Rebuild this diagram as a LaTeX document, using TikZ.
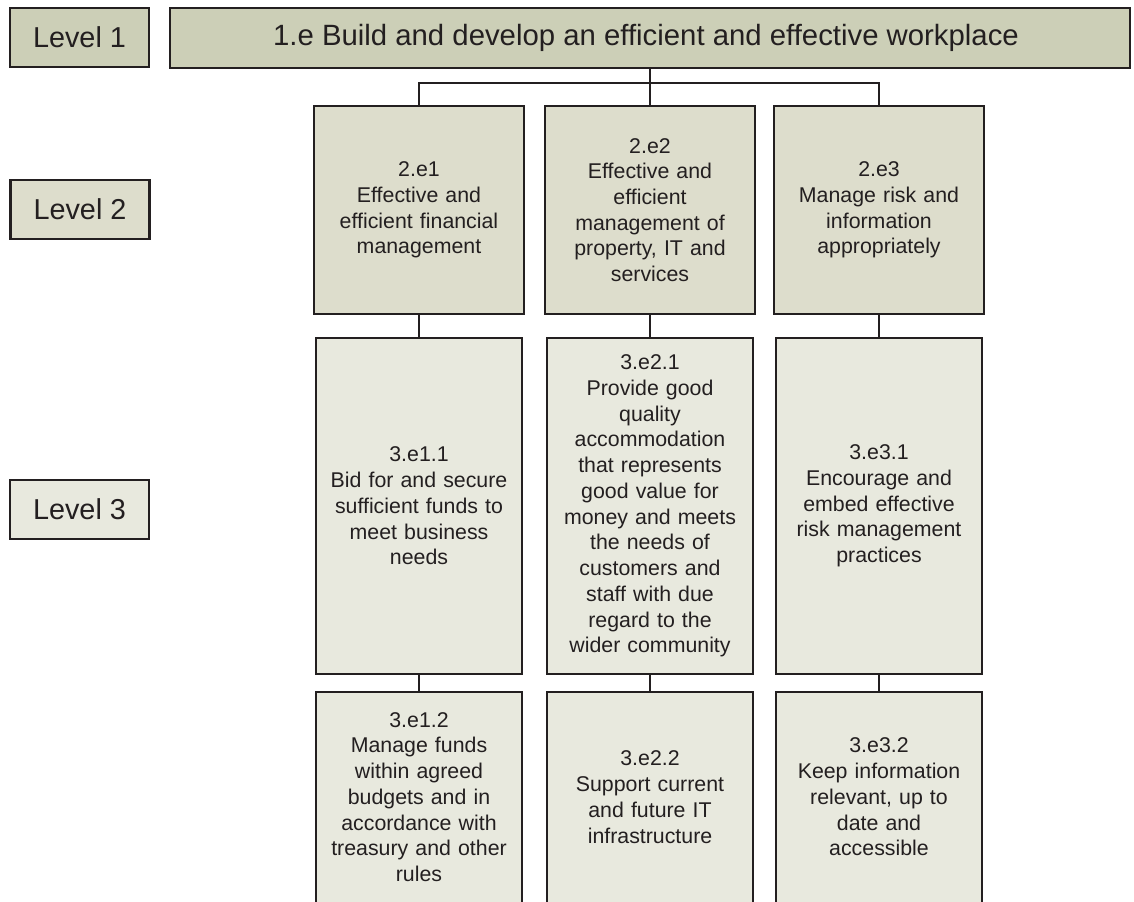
\documentclass[tikz,border=0pt]{standalone}
\usepackage{fontspec}
\setmainfont{Liberation Sans}
\definecolor{ink}{HTML}{231F20}
\definecolor{fillone}{HTML}{CCCFB7}
\definecolor{filltwo}{HTML}{DDDDCC}
\definecolor{fillthree}{HTML}{E8E9DE}
\tikzset{
  boxbase/.style={draw=ink, line width=2pt, text=ink, inner sep=0pt, rectangle},
  bigfont/.style={font=\fontsize{21.6}{26}\selectfont},
  smallfont/.style={font=\fontsize{16}{19.3}\selectfont, align=center, text width=150pt},
  levelbox/.style={boxbase, bigfont, minimum width=104.25pt, minimum height=44.25pt},
  topbox/.style={boxbase, font=\fontsize{22}{26}\selectfont, fill=fillone, minimum width=720pt, minimum height=45pt},
  lvtwo/.style={boxbase, smallfont, fill=filltwo, minimum width=157.5pt, minimum height=156pt},
  lvthree/.style={boxbase, smallfont, fill=fillthree, minimum width=154.5pt, minimum height=252pt},
  % lower row: the box runs past the page edge, so the text block is
  % lifted by giving it extra depth (lines-1 baselines plus 12pt)
  lvthreelow/.style={boxbase, smallfont, fill=fillthree, minimum width=154.5pt, minimum height=169.5pt, text depth={(#1-1)*19.3pt+12pt}},
  conn/.style={draw=ink, line width=2pt},
}
\begin{document}
\begin{tikzpicture}[x=0.75pt, y=-0.75pt]
\useasboundingbox (0,0) rectangle (1134,902);
\clip (0,0) rectangle (1134,902);

% level captions on the left
\node[levelbox, fill=fillone]   (lv1) at (79.5,37.5)  {Level 1};
\node[levelbox, fill=filltwo]   (lv2) at (80,209.5)   {Level 2};
\node[levelbox, fill=fillthree] (lv3) at (79.5,509.5) {Level 3};

% level 1
\node[topbox] (top) at (650,38) {\hspace*{-6pt}1.e Build and develop an efficient and effective workplace};

% level 2
\node[lvtwo] (e1) at (419,210) {2.e1\\Effective and\\efficient financial\\management};
\node[lvtwo] (e2) at (650,210) {2.e2\\Effective and\\efficient\\management of\\property, IT and\\services};
\node[lvtwo] (e3) at (879,210) {2.e3\\Manage risk and\\information\\appropriately};

% level 3, first row
\node[lvthree] (e11) at (419,506) {3.e1.1\\Bid for and secure\\sufficient funds to\\meet business\\needs};
\node[lvthree] (e21) at (650,506) {3.e2.1\\Provide good\\quality\\accommodation\\that represents\\good value for\\money and meets\\the needs of\\customers and\\staff with due\\regard to the\\wider community};
\node[lvthree] (e31) at (879,506) {3.e3.1\\Encourage and\\embed effective\\risk management\\practices};

% level 3, second row (runs past the lower edge)
\node[lvthreelow=7] (e12) at (419,805) {3.e1.2\\Manage funds\\within agreed\\budgets and in\\accordance with\\treasury and other\\rules};
\node[lvthreelow=4] (e22) at (650,805) {3.e2.2\\Support current\\and future IT\\infrastructure};
\node[lvthreelow=5] (e32) at (879,805) {3.e3.2\\Keep information\\relevant, up to\\date and\\accessible};

% connectors
\coordinate (bus) at (650,83);
\draw[conn] (top.south) -- (e2.north);
\draw[conn] (e1.north) |- (bus) -| (e3.north);
\draw[conn] (e1.south) -- (e11.north);
\draw[conn] (e2.south) -- (e21.north);
\draw[conn] (e3.south) -- (e31.north);
\draw[conn] (e11.south) -- (e12.north);
\draw[conn] (e21.south) -- (e22.north);
\draw[conn] (e31.south) -- (e32.north);
\end{tikzpicture}
\end{document}
